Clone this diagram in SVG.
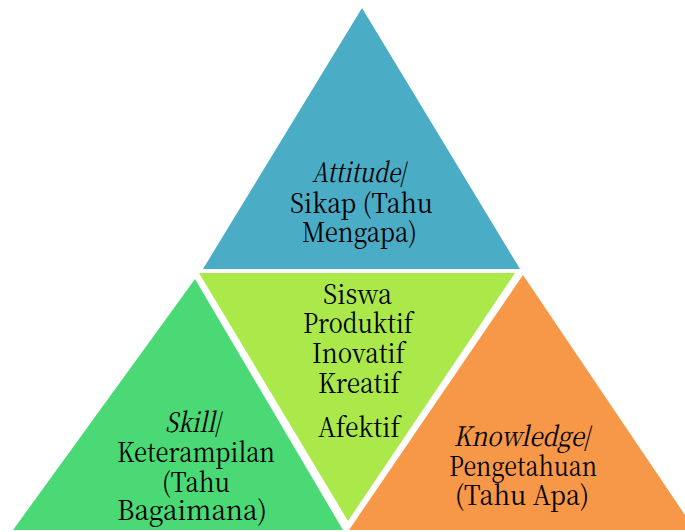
<svg xmlns="http://www.w3.org/2000/svg" width="685" height="532" viewBox="0 0 685 532">
  <style>
    .lbl { font-family: "Noto Serif CJK SC", "Liberation Serif", serif; font-size: 27px; fill: #000; text-anchor: middle; }
    .it { font-style: italic; }
  </style>
  <rect width="685" height="532" fill="#ffffff"/>
  <g id="skill">
    <polygon points="195,279 13,530 343,530" fill="#4AD975"/>
    <text class="lbl" x="194" y="432" textLength="58" lengthAdjust="spacingAndGlyphs"><tspan class="it">Skill</tspan>/</text>
    <text class="lbl" x="196" y="462" textLength="158" lengthAdjust="spacingAndGlyphs">Keterampilan</text>
    <text class="lbl" x="196" y="492" textLength="68" lengthAdjust="spacingAndGlyphs">(Tahu</text>
    <text class="lbl" x="192" y="520" textLength="150" lengthAdjust="spacingAndGlyphs">Bagaimana)</text>
  </g>
  <g id="siswa">
    <polygon points="199,273 515,273 348,521" fill="#ABE94A"/>
    <text class="lbl" x="357.5" y="304" textLength="69" lengthAdjust="spacingAndGlyphs">Siswa</text>
    <text class="lbl" x="358" y="333" textLength="110" lengthAdjust="spacingAndGlyphs">Produktif</text>
    <text class="lbl" x="358.5" y="363" textLength="93" lengthAdjust="spacingAndGlyphs">Inovatif</text>
    <text class="lbl" x="359" y="393" textLength="82" lengthAdjust="spacingAndGlyphs">Kreatif</text>
    <text class="lbl" x="359" y="437" textLength="82" lengthAdjust="spacingAndGlyphs">Afektif</text>
  </g>
  <g id="knowledge">
    <polygon points="523,275 349,530 685,530 685,515" fill="#F79748"/>
    <text class="lbl" x="523" y="446" textLength="139" lengthAdjust="spacingAndGlyphs"><tspan class="it">Knowledge</tspan>/</text>
    <text class="lbl" x="523" y="476" textLength="148" lengthAdjust="spacingAndGlyphs">Pengetahuan</text>
    <text class="lbl" x="522" y="505" textLength="134" lengthAdjust="spacingAndGlyphs">(Tahu Apa)</text>
  </g>
  <g id="attitude">
    <polygon points="362,8 203,269 520,269" fill="#4BACC6"/>
    <text class="lbl" x="360" y="182" textLength="96" lengthAdjust="spacingAndGlyphs"><tspan class="it">Attitude</tspan>/</text>
    <text class="lbl" x="361.5" y="213" textLength="143" lengthAdjust="spacingAndGlyphs">Sikap (Tahu</text>
    <text class="lbl" x="359.5" y="242" textLength="115" lengthAdjust="spacingAndGlyphs">Mengapa)</text>
  </g>
  <g id="connectors"/>
</svg>
